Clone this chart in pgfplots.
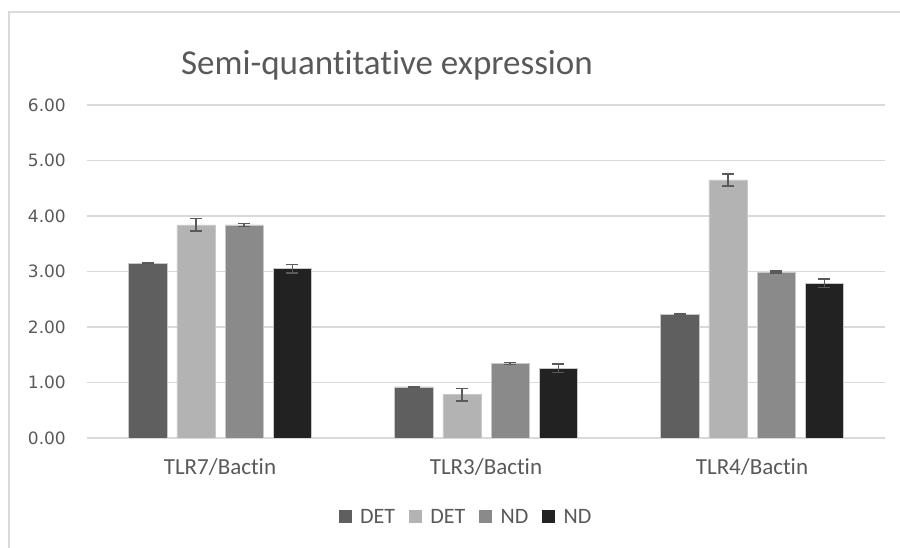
\documentclass[border=0pt]{standalone}
\usepackage{fontspec}
\setmainfont{Carlito}[Ligatures={NoCommon}, RawFeature={-liga;-dlig;-clig}]
\newfontfamily\dejavu{DejaVu Sans}
\usepackage{pgfplots}
\pgfplotsset{compat=1.18}
\definecolor{cA}{HTML}{5F5F5F}
\definecolor{cB}{HTML}{B3B3B3}
\definecolor{cC}{HTML}{8A8A8A}
\definecolor{cD}{HTML}{222222}
\definecolor{gridc}{HTML}{D9D9D9}
\definecolor{txt}{HTML}{595959}
\definecolor{edge}{HTML}{C8C8C8}
\definecolor{errc}{HTML}{5A5A5A}
\begin{document}
\begin{tikzpicture}[x=1pt,y=1pt]
\useasboundingbox (0,0) rectangle (900,548);
\draw[gridc, line width=1.2pt] (9,0) -- (9,536) -- (900,536);
\node[text=txt, font=\fontsize{35}{40}\selectfont, inner sep=0pt] at (387,483) {Semi-quantitative expression};
\begin{axis}[
  at={(87pt,110pt)}, anchor=south west,
  width=798pt, height=333pt, scale only axis,
  ybar,
  xmin=-0.5, xmax=2.5, ymin=0, ymax=6,
  ytick={0,1,2,3,4,5,6},
  xtick={0,1,2},
  xticklabels={TLR7/Bactin,TLR3/Bactin,TLR4/Bactin},
  ymajorgrids, grid style={gridc, line width=1.3pt},
  axis line style={draw=none},
  major tick length=0pt,
  /pgf/number format/fixed, /pgf/number format/fixed zerofill,
  /pgf/number format/precision=2, /pgf/number format/assume math mode=true,
  yticklabel style={font=\dejavu\fontsize{17}{20}\selectfont, text=txt, anchor=east, inner sep=0pt, xshift=-21pt},
  xticklabel style={font=\fontsize{23}{27}\selectfont, text=txt, anchor=center, inner sep=0pt, yshift=-29pt},
  legend columns=4,
  legend style={at={(0.475,-0.237)}, anchor=center, draw=none, fill=none,
    font=\fontsize{22}{26}\selectfont, text=txt,
    /tikz/every even column/.append style={column sep=12pt}},
  legend image code/.code={\fill[#1,draw=none] (0pt,-6.5pt) rectangle (13pt,6.5pt); \path (19pt,0pt);},
  error bars/y dir=both, error bars/y explicit,
  error bars/error mark=|,
  error bars/error bar style={line width=1.4pt, errc},
  error bars/error mark options={line width=1.4pt, errc, mark size=6pt},
  bar width=0.143,
]
\addplot[fill=cA, draw=edge, line width=0.6pt, bar shift=-0.2715] table[x=x, y=y, y error=e] {
x y e
0 3.15 0.01
1 0.92 0.01
2 2.23 0.01
};
\addplot[fill=cB, draw=edge, line width=0.6pt, bar shift=-0.0905] table[x=x, y=y, y error=e] {
x y e
0 3.84 0.11
1 0.78 0.11
2 4.65 0.11
};
\addplot[fill=cC, draw=edge, line width=0.6pt, bar shift=0.0905] table[x=x, y=y, y error=e] {
x y e
0 3.84 0.025
1 1.34 0.02
2 2.99 0.02
};
\addplot[fill=cD, draw=edge, line width=0.6pt, bar shift=0.2715] table[x=x, y=y, y error=e] {
x y e
0 3.05 0.08
1 1.26 0.075
2 2.79 0.075
};
\legend{DET,DET,ND,ND}
\end{axis}
\end{tikzpicture}
\end{document}
